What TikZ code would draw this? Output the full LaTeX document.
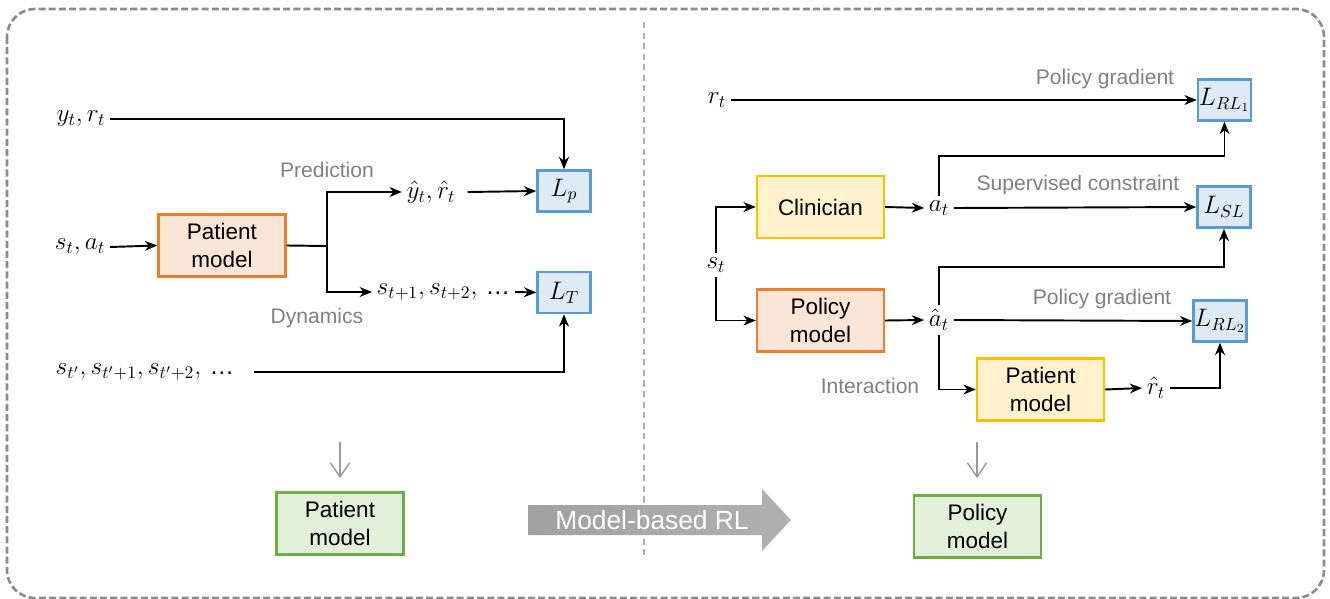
\documentclass[tikz,border=0pt]{standalone}
\usepackage[no-math]{fontspec}
\setmainfont{Liberation Sans}
\usetikzlibrary{arrows.meta}

\definecolor{edgeorange}{HTML}{ED7D31}
\definecolor{fillorange}{HTML}{FBE5D6}
\definecolor{edgeyellow}{HTML}{FFC000}
\definecolor{fillyellow}{HTML}{FFF2CC}
\definecolor{edgeblue}{HTML}{5B9BD5}
\definecolor{fillblue}{HTML}{DEEBF7}
\definecolor{edgegreen}{HTML}{70AD47}
\definecolor{fillgreen}{HTML}{E2F0D9}
\definecolor{labelgray}{HTML}{808080}
\definecolor{framegray}{HTML}{8C8C8C}
\definecolor{splitgray}{HTML}{B0B0B0}

% compact ellipsis for the state sequences
\newcommand{\seqdots}{\mbox{\,…}}

\tikzset{
  block/.style={align=center, inner sep=0pt, line width=1.4pt,
    font=\fontsize{12.8}{15.5}\selectfont,
    minimum width=2.54cm, minimum height=1.24cm},
  orangebox/.style={block, draw=edgeorange, fill=fillorange},
  yellowbox/.style={block, draw=edgeyellow, fill=fillyellow},
  greenbox/.style={block, draw=edgegreen, fill=fillgreen},
  lossbox/.style={inner sep=0pt, line width=1.4pt, draw=edgeblue, fill=fillblue,
    minimum width=1.06cm, minimum height=0.82cm,
    font=\fontsize{14}{16}\selectfont},
  sym/.style={inner sep=2.5pt, font=\fontsize{14}{16}\selectfont},
  lbl/.style={inner sep=0pt, text=labelgray, font=\fontsize{12}{14}\selectfont},
  link/.style={line width=1.1pt},
  arr/.style={link, -{Stealth[length=7pt,width=5.6pt,inset=2.2pt]}},
  down/.style={draw=labelgray!80, line width=0.8pt,
    -{Straight Barb[length=8pt,width=11pt]}},
}

\begin{document}
\begin{tikzpicture}[x=0.02cm,y=-0.02cm]
\useasboundingbox (0,0) rectangle (1330,599);

% outer frame
\draw[framegray, line width=1.5pt, dash pattern=on 4pt off 1.8pt, rounded corners=0.56cm]
  (7,9) rectangle (1324,598);

% ---------------- left panel: training the patient model ----------------
\node[sym] (yr) at (81,119) {$y_t, r_t$};
\node[sym] (sa) at (80,247) {$s_t, a_t$};
\node[sym, anchor=west] (sprime) at (51,372) {$s_{t'}, s_{t'+1}, s_{t'+2},\seqdots$};
\node[orangebox] (pm) at (222,245.5) {Patient\\model};
\node[sym] (yhat) at (431,192) {$\hat y_t, \hat r_t$};
\node[sym, anchor=west] (snext) at (372,292) {$s_{t+1}, s_{t+2},\seqdots$};
\node[lossbox] (Lp) at (564,191) {$L_p$};
\node[lossbox] (LT) at (564,292.5) {$L_T$};
\coordinate (fork) at (327,246);

\node[lbl] (predlbl) at (327,170) {Prediction};
\node[lbl] (dynlbl) at (317,318) {Dynamics};

\draw[arr] (yr.east) -| (Lp.north);
\draw[arr] (sa.east) -- (pm.west);
\draw[link] (pm.east) -- (fork);
\draw[arr] (fork) |- (yhat.west);
\draw[arr] (fork) |- (snext.west);
\draw[arr] ([xshift=0.15cm]yhat.east) -- (Lp.west);
\draw[arr] (snext.east) -- (LT.west);
\draw[arr] ([xshift=0.3cm]sprime.east) -| (LT.south);

\node[greenbox] (pmout) at (340,523.5) {Patient\\model};
\coordinate (pmdownA) at (340,442);
\coordinate (pmdownB) at (340,478);
\draw[down] (pmdownA) -- (pmdownB);

% ---------------- right panel: training the policy model ----------------
\node[sym] (rt) at (717,100) {$r_t$};
\node[sym] (st) at (716,265) {$s_t$};
\node[yellowbox] (clin) at (820.5,207) {Clinician};
\node[orangebox] (pol) at (820.5,320.5) {Policy\\model};
\node[sym] (at) at (939,208) {$a_t$};
\node[sym] (ahat) at (939,320) {$\hat a_t$};
\node[yellowbox] (pm2) at (1040.5,389.5) {Patient\\model};
\node[sym] (rhat) at (1156,388) {$\hat r_t$};
\node[lossbox] (LRLa) at (1224.5,100) {$L_{RL_1}$};
\node[lossbox] (LSL) at (1224,207) {$L_{SL}$};
\node[lossbox] (LRLb) at (1220,321) {$L_{RL_2}$};
\coordinate (atup) at (939,156);
\coordinate (ahatup) at (939,267);

\node[lbl] (pglbla) at (1105,79) {Policy gradient};
\node[lbl] (sclbl) at (1078,185) {Supervised constraint};
\node[lbl] (pglblb) at (1102,299) {Policy gradient};
\node[lbl] (intlbl) at (870,386) {Interaction};

\draw[arr] (rt.east) -- (LRLa.west);
\draw[arr] (st.north) |- (clin.west);
\draw[arr] (st.south) |- (pol.west);
\draw[arr] (clin.east) -- (at.west);
\draw[arr] (pol.east) -- (ahat.west);
\draw[arr] (at.east) -- (LSL.west);
\draw[arr] (at.north) -- (atup) -| (LRLa.south);
\draw[arr] (ahat.east) -- (LRLb.west);
\draw[arr] (ahat.north) -- (ahatup) -| (LSL.south);
\draw[arr] (ahat.south) |- (pm2.west);
\draw[arr] (pm2.east) -- (rhat.west);
\draw[arr] (rhat.east) -| (LRLb.south);

\node[greenbox] (polout) at (977.5,526.5) {Policy\\model};
\coordinate (poldownA) at (977,442);
\coordinate (poldownB) at (977,478);
\draw[down] (poldownA) -- (poldownB);

% ---------------- transition arrow and panel divider ----------------
\shade[left color=gray!74, right color=gray!62]
  (528,505) -- (762,505) -- (762,489) -- (791,520) -- (762,551) -- (762,535) -- (528,535) -- cycle;
\draw[splitgray, line width=0.6pt, dash pattern=on 3.5pt off 2.5pt] (644,22) -- (644,557);
\node[inner sep=0pt, text=white, font=\fontsize{15}{17}\selectfont] (mbrl) at (652,520) {Model-based RL};

\end{tikzpicture}
\end{document}
